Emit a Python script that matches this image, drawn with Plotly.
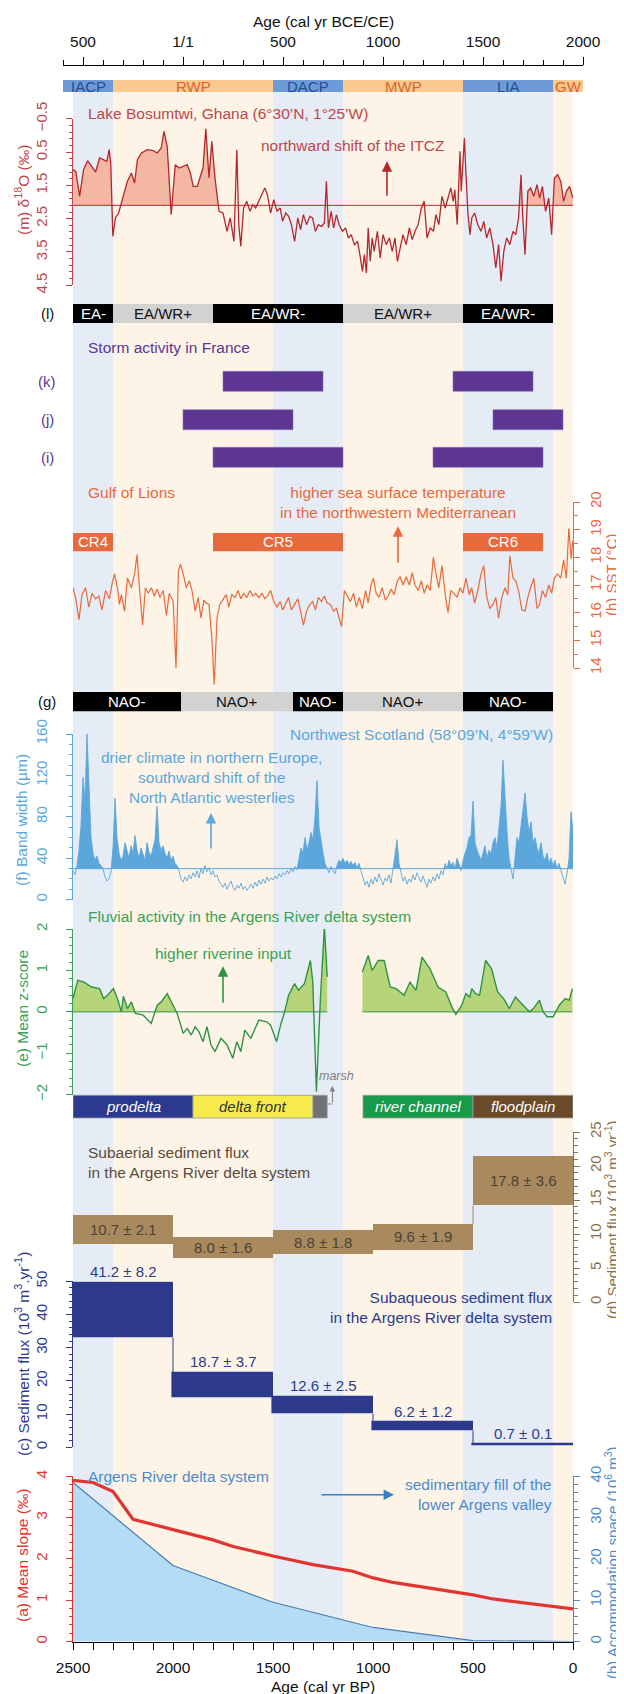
import plotly.graph_objects as go

W, H = 624, 1694
FONT = "Liberation Sans, Arial, Helvetica, sans-serif"

# ---------------- data ----------------
period_names = ["IACP", "RWP", "DACP", "MWP", "LIA", "GW"]
period_start_bp = [2550, 2300, 1500, 1150, 550, 100]
period_end_bp = [2300, 1500, 1150, 550, 100, -50]
period_cold = [True, False, True, False, True, False]

ce_tickvals = [-500, 0, 500, 1000, 1500, 2000]
ce_ticktext = ["500", "1/1", "500", "1000", "1500", "2000"]

# (m) Lake Bosumtwi d18O
m_age = [2500, 2486, 2467, 2447, 2427, 2407, 2387, 2367, 2347, 2331,
         2319, 2311, 2301, 2288, 2272, 2252, 2228, 2208, 2192, 2178,
         2158, 2128, 2099, 2079, 2059, 2045, 2029, 2009, 1989, 1969,
         1949, 1929, 1913, 1899, 1879, 1860, 1850, 1836, 1820, 1806,
         1790, 1770, 1750, 1730, 1714, 1695, 1681, 1671, 1661, 1647,
         1631, 1615, 1601, 1587, 1571, 1555, 1541, 1528, 1512, 1496,
         1480, 1464, 1452, 1436, 1422, 1408, 1392, 1376, 1362, 1348,
         1332, 1316, 1302, 1288, 1273, 1257, 1243, 1233, 1223, 1209,
         1197, 1183, 1169, 1153, 1137, 1123, 1109, 1093, 1077, 1063,
         1053, 1043, 1033, 1024, 1014, 1004, 994, 978, 964, 950,
         934, 918, 904, 890, 878, 864, 850, 834, 818, 804,
         790, 774, 758, 744, 730, 714, 698, 685, 671, 655,
         639, 625, 611, 599, 591, 579, 571, 565, 559, 551,
         543, 535, 525, 515, 506, 492, 476, 460, 446, 432,
         416, 400, 386, 372, 360, 346, 332, 316, 300, 286,
         272, 260, 252, 240, 226, 212, 196, 180, 167, 153,
         137, 121, 107, 93, 77, 61, 47, 33, 17, 1]
m_d18o = [1.03, 1.08, 1.83, 1.03, 0.76, 0.93, 1.10, 0.68, 0.73, 0.78,
          0.43, 0.88, 3.03, 2.48, 2.33, 1.88, 1.38, 1.13, 1.43, 0.73,
          0.53, 0.43, 0.46, 0.53, 0.38, -0.12, 0.33, 2.38, 0.88, 0.98,
          0.93, 0.88, 1.13, 1.53, 1.53, 1.13, 0.98, -0.20, 1.28, 0.18,
          1.28, 2.28, 2.33, 2.88, 2.48, 3.18, 0.43, 2.68, 3.33, 2.18,
          1.98, 2.28, 2.08, 2.18, 1.98, 1.78, 1.58, 1.78, 2.33, 1.93,
          2.28, 2.18, 2.58, 2.33, 2.43, 2.68, 3.18, 2.48, 2.83, 2.38,
          2.68, 2.43, 2.48, 2.88, 2.68, 2.73, 2.63, 1.38, 2.78, 2.28,
          2.78, 2.38, 2.68, 2.88, 2.78, 3.08, 2.98, 3.28, 3.18, 3.68,
          4.08, 3.58, 4.13, 2.78, 3.78, 3.08, 3.48, 2.88, 3.68, 2.98,
          3.28, 3.08, 3.48, 3.08, 3.78, 3.38, 2.98, 3.28, 2.78, 3.13,
          2.88, 2.68, 2.18, 1.98, 3.08, 2.78, 2.88, 2.38, 2.68, 1.83,
          2.18, 1.88, 1.58, 1.98, 1.63, 2.68, 1.38, 0.48, 1.68, 0.78,
          0.08, 1.18, 2.38, 2.98, 2.48, 2.33, 2.68, 2.88, 2.58, 3.08,
          2.78, 3.28, 3.98, 3.28, 4.38, 3.48, 3.08, 3.28, 2.88, 2.98,
          2.48, 1.18, 2.38, 3.58, 1.68, 1.58, 1.83, 1.48, 1.88, 1.53,
          2.28, 1.88, 2.98, 1.28, 1.18, 1.38, 1.98, 1.68, 1.53, 1.88]
m_baseline = 2.1
m_fill_windows = [(2500, 1770), (272, 0)]

# (l) EA/WR modes
ea_labels = ["EA-", "EA/WR+", "EA/WR-", "EA/WR+", "EA/WR-"]
ea_start = [2500, 2300, 1800, 1150, 550]
ea_end = [2300, 1800, 1150, 550, 100]
ea_dark = [True, False, True, False, True]

# (k)(j)(i) storm periods
storm_k = [(1750, 1250), (600, 200)]
storm_j = [(1950, 1400), (400, 50)]
storm_i = [(1800, 1150), (700, 150)]

# (h) Gulf of Lions SST
cr_labels = ["CR4", "CR5", "CR6"]
cr_start = [2500, 1800, 550]
cr_end = [2300, 1150, 150]
h_age = [2500, 2486, 2470, 2455, 2437, 2421, 2405, 2387, 2371, 2355,
         2337, 2318, 2303, 2292, 2278, 2268, 2258, 2242, 2228, 2208,
         2192, 2180, 2168, 2152, 2138, 2124, 2108, 2093, 2079, 2065,
         2049, 2033, 2019, 1999, 1985, 1973, 1963, 1949, 1933, 1919,
         1905, 1889, 1874, 1860, 1846, 1834, 1820, 1806, 1794, 1780,
         1766, 1750, 1734, 1721, 1706, 1690, 1674, 1661, 1647, 1631,
         1615, 1601, 1587, 1571, 1555, 1541, 1528, 1512, 1496, 1480,
         1464, 1452, 1436, 1422, 1408, 1392, 1376, 1362, 1348, 1332,
         1316, 1302, 1288, 1273, 1257, 1243, 1229, 1213, 1197, 1183,
         1169, 1157, 1143, 1129, 1113, 1097, 1083, 1069, 1053, 1037,
         1024, 1010, 998, 984, 970, 954, 938, 924, 910, 894,
         878, 864, 850, 834, 818, 804, 790, 774, 758, 744,
         730, 714, 698, 685, 671, 655, 639, 625, 611, 595,
         579, 565, 551, 535, 519, 506, 492, 476, 460, 446,
         432, 416, 400, 386, 372, 356, 340, 326, 316, 300,
         286, 272, 256, 240, 226, 212, 196, 180, 167, 153,
         137, 121, 107, 93, 77, 61, 47, 33, 21, 9,
         1]
h_sst = [16.9, 16.5, 15.75, 16.65, 16.9, 16.2, 16.7, 16.5, 16.6, 16.1,
         16.8, 16.5, 17.1, 17.4, 16.9, 16.3, 16.65, 16.05, 17.25, 16.9,
         17.4, 18.1, 16.9, 15.55, 16.9, 16.7, 16.9, 16.6, 16.85, 16.55,
         16.8, 15.9, 16.7, 16.4, 14.0, 17.5, 17.75, 17.4, 16.9, 17.15,
         16.8, 16.05, 16.55, 15.8, 16.45, 16.35, 16.3, 15.1, 13.4, 15.8,
         16.3, 16.5, 16.65, 16.2, 16.65, 16.55, 16.8, 16.5, 16.7, 16.55,
         16.8, 16.6, 16.7, 16.55, 16.7, 16.5, 16.6, 16.8, 16.4, 16.2,
         16.4, 16.1, 16.35, 16.55, 16.1, 16.3, 16.5, 16.05, 15.55, 16.05,
         16.3, 16.4, 16.1, 16.55, 16.4, 16.6, 16.35, 16.3, 16.05, 16.15,
         15.8, 15.5, 16.8, 16.6, 16.4, 16.7, 16.2, 16.55, 16.15, 16.8,
         16.35, 17.0, 17.25, 16.7, 16.55, 16.9, 16.45, 16.6, 16.85, 16.65,
         17.15, 17.3, 17.0, 17.3, 17.0, 17.45, 17.0, 16.8, 17.15, 16.7,
         17.0, 16.8, 18.0, 17.4, 16.9, 17.7, 16.65, 16.0, 16.8, 16.7,
         16.55, 16.9, 16.7, 17.25, 16.65, 16.9, 16.35, 16.8, 17.4, 17.7,
         16.6, 16.15, 16.3, 16.55, 15.8, 16.55, 16.9, 16.65, 18.05, 17.25,
         17.15, 16.8, 16.1, 16.05, 16.55, 16.9, 17.25, 16.15, 16.3, 16.8,
         16.55, 17.0, 16.7, 17.25, 17.4, 17.25, 17.9, 17.25, 19.05, 17.95,
         18.6]

# (g) NAO
nao_labels = ["NAO-", "NAO+", "NAO-", "NAO+", "NAO-"]
nao_start = [2500, 1960, 1400, 1150, 550]
nao_end = [1960, 1400, 1150, 550, 100]
nao_dark = [True, False, True, False, True]

# (f) stalagmite band width, 10-yr steps from 2500 to 0 BP
f_step = 10
f_width = [28, 24, 33, 48, 72, 118, 95, 160, 110, 60,
           45, 38, 42, 35, 33, 30, 22, 18, 20, 27,
           50, 98, 60, 45, 38, 42, 55, 48, 40, 52,
           45, 62, 48, 40, 50, 44, 38, 55, 46, 42,
           50, 58, 90, 55, 48, 52, 45, 40, 47, 38,
           42, 35, 33, 28, 20, 17, 22, 18, 24, 20,
           26, 22, 28, 21, 30, 25, 33, 27, 31, 24,
           28, 22, 24, 18, 15, 12, 16, 10, 14, 18,
           12, 9, 14, 11, 16, 10, 13, 9, 12, 15,
           11, 17, 13, 19, 15, 20, 16, 22, 18, 21,
           19, 23, 20, 25, 22, 26, 24, 28, 25, 30,
           27, 32, 29, 40, 50, 45, 60, 48, 55, 65,
           58, 80, 115, 70, 55, 45, 35, 30, 26, 32,
           28, 25, 33, 38, 36, 40, 35, 38, 34, 37,
           33, 36, 31, 35, 28, 22, 14, 18, 12, 20,
           15, 22, 17, 25, 19, 14, 21, 18, 24, 16,
           30, 42, 58, 35, 26, 18, 22, 15, 20, 17,
           24, 19, 26, 21, 17, 23, 18, 12, 20, 16,
           22, 18, 25, 20, 28, 24, 35, 30, 38, 33,
           36, 30, 40, 34, 28, 38, 45, 50, 60, 62,
           95, 55, 48, 42, 38, 45, 52, 40, 48, 44,
           55, 60, 50, 70, 90, 135, 95, 65, 40, 30,
           20, 40, 60, 55, 70, 85, 103, 80, 65, 75,
           55, 60, 50, 45, 55, 42, 38, 45, 35, 40,
           33, 38, 30, 35, 28, 20, 15, 25, 40, 85,
           65]
f_age = [2500 - f_step * i for i in range(len(f_width))]
f_baseline = 30

# (e) fluvial activity, two segments
e_age_1 = [2500, 2476, 2447, 2407, 2367, 2347, 2327, 2298, 2278, 2258,
           2248, 2228, 2208, 2188, 2149, 2109, 2079, 2059, 2029, 2009,
           1979, 1949, 1929, 1909, 1889, 1870, 1850, 1830, 1810, 1790,
           1760, 1730, 1701, 1681, 1661, 1641, 1611, 1571, 1532, 1512,
           1482, 1462, 1442, 1422, 1392, 1373, 1343, 1313, 1301, 1283,
           1263, 1243, 1229]
e_z_1 = [0.32, 0.76, 0.72, 0.60, 0.56, 0.32, 0.40, 0.56, 0.32, 0.0,
         0.38, 0.08, 0.24, -0.04, -0.08, -0.28, 0.16, 0.24, 0.44, 0.24,
         -0.04, -0.52, -0.40, -0.56, -0.36, -0.48, -0.72, -0.36, -0.80, -0.96,
         -0.64, -0.80, -1.12, -0.72, -0.96, -0.44, -0.64, -0.20, -0.24, -0.32,
         -0.72, -0.32, 0.0, 0.40, 0.68, 0.52, 0.68, 1.24, 0.72, -1.93,
         0.32, 2.05, 0.84]
e_age_2 = [1053, 1024, 1004, 974, 944, 914, 884, 845, 815, 785,
           755, 715, 675, 636, 606, 586, 556, 536, 516, 506,
           487, 467, 437, 407, 377, 347, 318, 288, 258, 218,
           198, 168, 149, 129, 99, 69, 39, 19, 3]
e_z_2 = [0.96, 1.36, 1.00, 1.24, 1.24, 0.60, 0.56, 0.40, 0.72, 0.52,
         1.32, 1.04, 0.60, 0.48, 0.12, -0.06, 0.16, 0.44, 0.36, 0.56,
         0.44, 0.40, 1.24, 1.04, 0.48, 0.32, 0.08, 0.36, 0.20, 0.0,
         0.08, 0.28, 0.0, -0.12, -0.12, 0.16, 0.32, 0.28, 0.56]

facies_labels = ["prodelta", "delta front", "", "river channel", "floodplain"]
facies_start = [2500, 1900, 1300, 1050, 500]
facies_end = [1900, 1300, 1229, 500, 0]

# (d) & (c) sediment fluxes
flux_start = [2500, 2000, 1500, 1000, 500]
flux_end = [2000, 1500, 1000, 500, 0]
subaerial = [10.7, 8.0, 8.8, 9.6, 17.8]
subaerial_err = [2.1, 1.6, 1.8, 1.9, 3.6]
subaqueous = [41.2, 18.7, 12.6, 6.2, 0.7]
subaqueous_err = [8.2, 3.7, 2.5, 1.2, 0.1]

# (a) mean slope & (b) accommodation space
slope_age = [2500, 2400, 2300, 2200, 2000, 1800, 1700, 1500, 1300, 1100, 1000, 900, 700, 500, 400, 200, 0]
slope = [3.9, 3.85, 3.63, 2.96, 2.71, 2.46, 2.3, 2.07, 1.86, 1.7, 1.54, 1.43, 1.28, 1.13, 1.03, 0.91, 0.79]
accom_age = [2500, 2000, 1500, 1000, 500, 0]
accom = [38.5, 18.4, 9.5, 3.4, 0.2, 0.0]

# ---------------- styling ----------------
C_M, C_M_LINE, C_M_FILL = "#c0464a", "#b3282d", "#f4b8a2"
C_PUR = "#5c3692"
C_H = "#e76a3c"
C_F = "#5ba7db"
C_E, C_E_LINE, C_E_FILL = "#39a255", "#2e9444", "#b6d57b"
C_D, C_D_AX, C_D_TXT = "#a88a5e", "#8d6e47", "#4e4236"
C_C = "#2d3a8c"
C_A = "#e2352f"
C_B, C_B_FILL, C_B_LINE = "#4f8ac8", "#b4dcf6", "#4a7db3"
COLD_BAR, COLD_TXT, WARM_BAR, WARM_TXT = "#6d9bd8", "#244a9a", "#f9c98d", "#e0612f"
COLD_SH, WARM_SH = "#e5ecf6", "#fdf4e7"


def P(ypx):
    return 1 - ypx / H


def X(xpx):
    return xpx / W


def clip_to_base(xs, ys, base, keep_below):
    ox, oy = [], []
    for i in range(len(xs)):
        if i:
            d0, d1 = ys[i - 1] - base, ys[i] - base
            if d0 * d1 < 0:
                t = d0 / (d0 - d1)
                ox.append(xs[i - 1] + t * (xs[i] - xs[i - 1]))
                oy.append(base)
        ox.append(xs[i])
        oy.append(min(ys[i], base) if keep_below else max(ys[i], base))
    return ox + [ox[-1], ox[0]], oy + [base, base]


fig = go.Figure()
shapes, anns = [], []


def rect(x0, x1, ytop, ybot, color, xref="x", line=None, layer="above"):
    shapes.append(dict(type="rect", xref=xref, yref="paper", x0=x0, x1=x1,
                       y0=P(ybot), y1=P(ytop), fillcolor=color, layer=layer,
                       line=line or dict(width=0)))


def ann(text, x, y, color, size=15, xref="paper", yref="paper", xanchor="center",
        yanchor="middle", italic=False, align="center", angle=0, **kw):
    anns.append(dict(text=text, x=x, y=y, xref=xref, yref=yref, xanchor=xanchor,
                     yanchor=yanchor, showarrow=False, align=align, textangle=angle,
                     font=dict(family=FONT, size=size, color=color,
                               style="italic" if italic else "normal"), **kw))


def arrow(x, y_head, ax, ay, color, width=1.6, size=1.3, xref="x"):
    anns.append(dict(text="", x=x, y=y_head, xref=xref, yref="paper", ax=ax, ay=ay,
                     showarrow=True, arrowhead=2, arrowsize=size, arrowwidth=width,
                     arrowcolor=color, standoff=0))


# period shading and period bar
for s, e, cold, name in zip(period_start_bp, period_end_bp, period_cold, period_names):
    rect(min(s, 2500), max(e, 0), 84, 1633.5, COLD_SH if cold else WARM_SH, layer="below")
    rect(1950 - s, 1950 - e, 72, 84, COLD_BAR if cold else WARM_BAR, xref="x2")
    ann(name, 1950 - (s + e) / 2, P(78.5), COLD_TXT if cold else WARM_TXT, size=15, xref="x2")

# (m)
for lo_hi in m_fill_windows:
    idx = [i for i, a in enumerate(m_age) if lo_hi[1] <= a <= lo_hi[0]]
    xs, ys = clip_to_base([m_age[i] for i in idx], [m_d18o[i] for i in idx], m_baseline, True)
    fig.add_trace(go.Scatter(x=xs, y=ys, fill="toself", fillcolor=C_M_FILL, mode="lines",
                             line=dict(width=0), yaxis="y", hoverinfo="skip"))
fig.add_trace(go.Scatter(x=[2500, 0], y=[m_baseline, m_baseline], mode="lines",
                         line=dict(color=C_M_LINE, width=1), yaxis="y", hoverinfo="skip"))
fig.add_trace(go.Scatter(x=m_age, y=m_d18o, mode="lines", line=dict(color=C_M_LINE, width=1.3),
                         yaxis="y", hoverinfo="skip"))

# (l) bar
for lab, s, e, dark in zip(ea_labels, ea_start, ea_end, ea_dark):
    rect(s, e, 296, 315, "#000000" if dark else "#d2d2d2")
    ann(lab, (s + e) / 2, P(305.5), "#ffffff" if dark else "#111111", xref="x")

# storms
for segs, ytop in ((storm_k, 363.3), (storm_j, 401.7), (storm_i, 439.3)):
    for s, e in segs:
        rect(s, e, ytop, ytop + 20, C_PUR, line=dict(width=0.6, color="#8a70b8"))

# CR bars
for lab, s, e in zip(cr_labels, cr_start, cr_end):
    rect(s, e, 525, 543.3, C_H)
    ann(lab, (s + e) / 2, P(534), "#ffffff", xref="x")

# (h) SST
h_top, h_bot, h_dbot = 494.0, 660.0, 682.0
h_scale = (h_bot - h_top) / 6.0
fig.add_trace(go.Scatter(x=h_age, y=h_sst, mode="lines", line=dict(color=C_H, width=1.2),
                         yaxis="y2", hoverinfo="skip"))
fig.add_trace(go.Scatter(x=[1000], y=[17], mode="markers", marker=dict(opacity=0),
                         yaxis="y3", hoverinfo="skip"))

# (g) NAO
for lab, s, e, dark in zip(nao_labels, nao_start, nao_end, nao_dark):
    rect(s, e, 684, 703.3, "#000000" if dark else "#d2d2d2")
    ann(lab, (s + e) / 2, P(693.6), "#ffffff" if dark else "#111111", xref="x")

# (f)
xs, ys = clip_to_base(f_age, f_width, f_baseline, False)
fig.add_trace(go.Scatter(x=xs, y=ys, fill="toself", fillcolor=C_F, mode="lines",
                         line=dict(width=0), yaxis="y4", hoverinfo="skip"))
fig.add_trace(go.Scatter(x=[2500, 0], y=[f_baseline, f_baseline], mode="lines",
                         line=dict(color=C_F, width=1), yaxis="y4", hoverinfo="skip"))
fig.add_trace(go.Scatter(x=f_age, y=f_width, mode="lines", line=dict(color=C_F, width=0.9),
                         yaxis="y4", hoverinfo="skip"))

# (e)
for ages, zs in ((e_age_1, e_z_1), (e_age_2, e_z_2)):
    xs, ys = clip_to_base(ages, zs, 0.0, False)
    fig.add_trace(go.Scatter(x=xs, y=ys, fill="toself", fillcolor=C_E_FILL, mode="lines",
                             line=dict(width=0), yaxis="y5", hoverinfo="skip"))
    fig.add_trace(go.Scatter(x=[ages[0], ages[-1]], y=[0, 0], mode="lines",
                             line=dict(color=C_E_LINE, width=1), yaxis="y5", hoverinfo="skip"))
    fig.add_trace(go.Scatter(x=ages, y=zs, mode="lines", line=dict(color=C_E_LINE, width=1.4),
                             yaxis="y5", hoverinfo="skip"))

facies_colors = ["#2b3990", "#f6ea4c", "#707174", "#189a4b", "#6b4a2a"]
facies_txt = ["#ffffff", "#333333", "#ffffff", "#ffffff", "#ffffff"]
for lab, s, e, c, tc in zip(facies_labels, facies_start, facies_end, facies_colors, facies_txt):
    rect(s, e, 1087.3, 1110, c, line=dict(width=0.8, color="#9a9a9a"))
    if lab:
        ann(lab, (s + e) / 2, P(1098.6), tc, xref="x", italic=True)
# marsh pointer
shapes.append(dict(type="line", xref="x", yref="paper", x0=facies_end[2], x1=1203,
                   y0=P(1096), y1=P(1096), line=dict(color="#808080", width=1)))
arrow(1203, P(1078), 0, 18, "#808080", width=1, size=1.1)
ann("marsh", 1185, P(1068), "#808080", size=12.5, xref="x", italic=True)

# (d) subaerial flux bars
centers = [(s + e) / 2 for s, e in zip(flux_start, flux_end)]
widths = [s - e for s, e in zip(flux_start, flux_end)]
fig.add_trace(go.Bar(x=centers, y=[2 * er for er in subaerial_err],
                     base=[v - er for v, er in zip(subaerial, subaerial_err)], width=widths,
                     marker=dict(color=C_D, line=dict(width=0)), yaxis="y6", hoverinfo="skip"))
fig.add_trace(go.Bar(x=centers, y=[2 * er for er in subaqueous_err],
                     base=[v - er for v, er in zip(subaqueous, subaqueous_err)], width=widths,
                     marker=dict(color=C_C, line=dict(width=1.6, color=C_C)), yaxis="y7",
                     hoverinfo="skip"))


def connectors(vals, errs):
    cx, cy = [], []
    for i in range(1, len(vals)):
        plo, phi = vals[i - 1] - errs[i - 1], vals[i - 1] + errs[i - 1]
        nlo, nhi = vals[i] - errs[i], vals[i] + errs[i]
        if nlo > phi:
            cx += [flux_start[i], flux_start[i], None]; cy += [phi, nlo, None]
        elif nhi < plo:
            cx += [flux_start[i], flux_start[i], None]; cy += [plo, nhi, None]
    return cx, cy


cx, cy = connectors(subaerial, subaerial_err)
fig.add_trace(go.Scatter(x=cx, y=cy, mode="lines", line=dict(color=C_D, width=1),
                         yaxis="y6", hoverinfo="skip"))
cx, cy = connectors(subaqueous, subaqueous_err)
fig.add_trace(go.Scatter(x=cx, y=cy, mode="lines", line=dict(color=C_C, width=1),
                         yaxis="y7", hoverinfo="skip"))
for c, v, er in zip(centers, subaerial, subaerial_err):
    ann(f"{v:.1f} ± {er:.1f}", c, v, C_D_TXT, xref="x", yref="y6")
for c, v, er in zip(centers, subaqueous, subaqueous_err):
    ann(f"{v:.1f} ± {er:.1f}", c, v + er, C_C, xref="x", yref="y7", yanchor="bottom", yshift=1)

# (b) accommodation (base axis, right) and (a) slope (overlay, left)
fig.add_trace(go.Scatter(x=accom_age, y=accom, mode="lines", fill="tozeroy", fillcolor=C_B_FILL,
                         line=dict(color=C_B_LINE, width=1.2), yaxis="y8", hoverinfo="skip"))
fig.add_trace(go.Scatter(x=slope_age, y=slope, mode="lines", line=dict(color=C_A, width=3.2),
                         yaxis="y9", hoverinfo="skip"))

# top axis dummy
fig.add_trace(go.Scatter(x=[0], y=[0.5], mode="markers", marker=dict(opacity=0),
                         xaxis="x2", yaxis="y10", hoverinfo="skip"))

# ---------------- texts ----------------
ann("Age (cal yr BCE/CE)", X(315), P(13), "#111111", size=15.5)
ann("Lake Bosumtwi, Ghana (6°30’N, 1°25’W)", X(78), P(105), C_M, xanchor="left", size=15.5)
ann("northward shift of the ITCZ", X(345), P(137.3), C_M, size=15.5)
arrow(930, P(153.3), 0, 36, C_M_LINE)
ann("(l)", X(39), P(305.5), "#111111")
ann("Storm activity in France", X(78), P(340), C_PUR, xanchor="left", size=15.5)
ann("(k)", X(39), P(373.3), C_PUR)
ann("(j)", X(39), P(411.7), C_PUR)
ann("(i)", X(39), P(449.3), C_PUR)
ann("Gulf of Lions", X(78), P(485), C_H, xanchor="left", size=15.5)
ann("higher sea surface temperature<br>in the northwestern Mediterranean", X(390), P(494),
    C_H, size=15.5)
arrow(875, P(518.3), 0, 38, C_H)
ann("(g)", X(39), P(693.6), "#111111")
ann("Northwest Scotland (58°09’N, 4°59’W)", X(547), P(726), C_F, xanchor="right", size=15.5)
ann("drier climate in northern Europe,<br>southward shift of the<br>North Atlantic westerlies",
    X(203), P(769.5), C_F, size=15.5)
arrow(1810, P(805), 0, 37, C_F)
ann("Fluvial activity in the Argens River delta system", X(78), P(908.3), C_E, xanchor="left", size=15.5)
ann("higher riverine input", X(215), P(945), C_E, size=15.5)
arrow(1750, P(958.3), 0, 38, C_E_LINE)
ann("Subaerial sediment flux<br>in the Argens River delta system", X(78), P(1154), "#5b4b3b",
    xanchor="left", align="left", size=15.5)
ann("Subaqueous sediment flux<br>in the Argens River delta system", X(547), P(1299), C_C,
    xanchor="right", align="right", size=15.5)
ann("Argens River delta system", X(78), P(1468.3), C_B, xanchor="left", size=15.5)
ann("sedimentary fill of the<br>lower Argens valley", X(546), P(1486), C_B,
    xanchor="right", align="right", size=15.5)
arrow(895, P(1486.7), -74, 0, "#3a7fc0")
ann("Age (cal yr BP)", X(315), P(1678), "#111111", size=15.5)

# axis titles
RT = 603
LT = 14
ann("(m) δ<sup>18</sup>O (‰)", X(LT), P(182), C_M, angle=-90, size=15.5)
ann("(h) SST (°C)", X(RT), P(567), C_H, angle=-90, size=15)
ann("(f) Band width (µm)", X(LT), P(812), C_F, angle=-90, size=15.5)
ann("(e) Mean z-score", X(LT), P(1001), C_E, angle=-90, size=15.5)
ann("(d) Sediment flux (10<sup>3</sup> m<sup>3</sup>.yr<sup>-1</sup>)", X(RT), P(1212), C_D_AX,
    angle=-90, size=15)
ann("(c) Sediment flux (10<sup>3</sup> m<sup>3</sup>.yr<sup>-1</sup>)", X(LT), P(1346), C_C,
    angle=-90, size=15.5)
ann("(a) Mean slope (‰)", X(LT), P(1547), C_A, angle=-90, size=15.5)
ann("(b) Accommodation space (10<sup>6</sup> m<sup>3</sup>)", X(RT), P(1555), C_B,
    angle=-90, size=15)


# ---------------- axes ----------------
def yax(top, bottom, rng, color, side="left", dtick=None, tick0=None, minor=None,
        show=True, overlaying=None):
    d = dict(range=rng, anchor="x", side=side, showgrid=False, zeroline=False, fixedrange=True)
    if overlaying:
        d["overlaying"] = overlaying
    else:
        d["domain"] = [P(bottom), P(top)]
    if not show:
        d["visible"] = False
        return d
    d.update(showline=True, linecolor=color, linewidth=1, ticks="outside", ticklen=6,
             tickwidth=1, tickcolor=color, tickangle=-90, dtick=dtick, tick0=tick0,
             tickfont=dict(family=FONT, size=15, color=color),
             ticklabelstandoff=13 if side == "left" else 3,
             minor=dict(ticks="outside", ticklen=3.5, tickwidth=1, tickcolor=color,
                        dtick=minor, tick0=tick0))
    return d


layout = dict(
    width=W, height=H, margin=dict(l=0, r=0, t=0, b=0), template="none",
    paper_bgcolor="white", plot_bgcolor="rgba(0,0,0,0)", showlegend=False,
    font=dict(family=FONT, size=15, color="#111111"),
    xaxis=dict(domain=[X(65), X(565)], range=[2500, 0], anchor="y8", side="bottom",
               showline=True, linecolor="black", linewidth=1, ticks="outside", ticklen=7,
               tickcolor="black", dtick=500, tick0=0, showgrid=False, zeroline=False,
               tickfont=dict(family=FONT, size=15.5, color="#111111"), ticklabelstandoff=5,
               minor=dict(ticks="outside", ticklen=7, dtick=100, tick0=0, tickcolor="black"),
               fixedrange=True),
    xaxis2=dict(domain=[X(55), X(575)], range=[-600, 2000], anchor="free", position=P(57),
                side="top", showline=True, linecolor="black", linewidth=1, ticks="outside",
                ticklen=8, tickcolor="black", tickmode="array", tickvals=ce_tickvals,
                ticktext=ce_ticktext, showgrid=False, zeroline=False, ticklabelstandoff=4,
                tickfont=dict(family=FONT, size=15.5, color="#111111"),
                minor=dict(ticks="outside", ticklen=5, tickmode="linear", dtick=100, tick0=0,
                           tickcolor="black"), fixedrange=True),
    yaxis=yax(110.7, 277.3, [4.5, -0.5], C_M, dtick=1, tick0=-0.5, minor=0.2),
    yaxis2=yax(h_top, h_dbot, [20 - (h_dbot - h_top) / h_scale, 20], C_H, show=False),
    yaxis3=yax(h_top, h_bot, [14, 20], C_H, side="right", dtick=1, tick0=14, minor=0.5),
    yaxis4=yax(726, 891.7, [0, 160], C_F, dtick=40, tick0=0, minor=10),
    yaxis5=yax(921, 1086.7, [-2, 2], C_E, dtick=1, tick0=0, minor=0.2),
    yaxis6=yax(1124, 1294, [0, 25], C_D_AX, side="right", dtick=5, tick0=0, minor=1),
    yaxis7=yax(1273.3, 1439.3, [0, 50], C_C, dtick=10, tick0=0, minor=2),
    yaxis8=yax(1468.3, 1633.5, [0, 40], C_B, side="right", dtick=10, tick0=0, minor=2),
    yaxis9=yax(1468.3, 1633.5, [0, 4], C_A, side="left", dtick=1, tick0=0, minor=0.2,
               overlaying="y8"),
    yaxis10=dict(domain=[P(84), P(72)], range=[0, 1], anchor="x2", visible=False, fixedrange=True),
    shapes=shapes, annotations=anns, bargap=0,
)
fig.update_layout(**layout)
fig.write_html("out.html")
